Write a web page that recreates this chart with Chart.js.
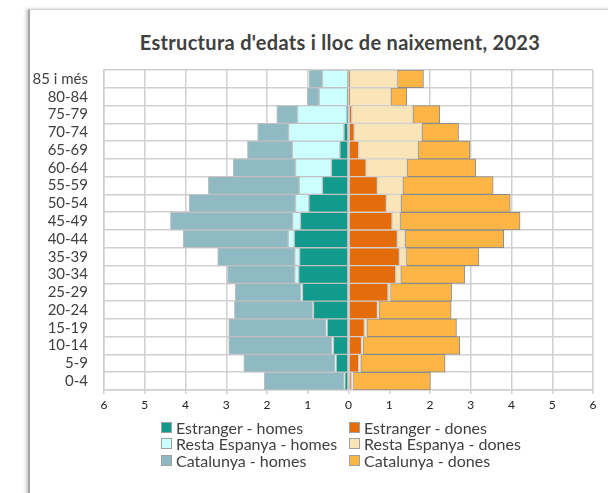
<!DOCTYPE html>
<html>
<head>
<meta charset="utf-8">
<script src="https://cdn.jsdelivr.net/npm/chart.js@4/dist/chart.umd.min.js"></script>
<style>
  body { margin: 0; width: 608px; height: 493px; overflow: hidden; background: #fff; font-family: Lato, "Open Sans", sans-serif; }
  #frame { position: absolute; left: 28px; top: 9px; width: 700px; height: 600px; border-top: 1px solid #d4d4d4; border-left: 2px solid #a6a6a6; box-shadow: -2px 0 3px #c8c8c8; }
  #title { position: absolute; left: 30px; width: 620px; top: 30px; text-align: center; font-weight: bold; font-size: 20px; letter-spacing: 0.3px; color: #404040; }
  #wrap { position: absolute; left: 0; top: 0; width: 608px; height: 493px; }
  #legend { position: absolute; left: 161px; top: 419px; display: grid; grid-template-columns: 188px 220px; row-gap: 0px; font-size: 16px; color: #404040; }
  #legend div { display: flex; align-items: center; height: 16.5px; }
  #legend span.box { width: 11px; height: 11px; margin-right: 4px; box-sizing: border-box; border: 1px solid #a0a0a0; }
</style>
</head>
<body>
<div id="frame"></div>
<div id="title">Estructura d'edats i lloc de naixement, 2023</div>
<div id="wrap"><canvas id="chart" width="608" height="493"></canvas></div>
<div id="legend"></div>
<script>
// age groups, top to bottom
const ages = ['85 i més', '80-84', '75-79', '70-74', '65-69', '60-64', '55-59', '50-54', '45-49',
  '40-44', '35-39', '30-34', '25-29', '20-24', '15-19', '10-14', '5-9', '0-4'];

// percentages of population
const estrangerHomes = [0.01, 0.02, 0.04, 0.11, 0.21, 0.42, 0.64, 0.97, 1.18, 1.33, 1.20, 1.22, 1.13, 0.86, 0.52, 0.37, 0.30, 0.09];
const restaHomes = [0.63, 0.70, 1.21, 1.36, 1.17, 0.88, 0.57, 0.33, 0.19, 0.15, 0.12, 0.10, 0.04, 0.02, 0.03, 0.04, 0.03, 0.02];
const catalunyaHomes = [0.33, 0.29, 0.51, 0.76, 1.10, 1.53, 2.23, 2.61, 3.00, 2.58, 1.89, 1.65, 1.61, 1.92, 2.39, 2.53, 2.24, 1.96];
const estrangerDones = [0.03, 0.03, 0.08, 0.14, 0.25, 0.43, 0.71, 0.93, 1.07, 1.20, 1.25, 1.16, 0.97, 0.71, 0.39, 0.32, 0.25, 0.07];
const restaDones = [1.17, 1.01, 1.50, 1.66, 1.46, 1.01, 0.62, 0.36, 0.20, 0.19, 0.17, 0.12, 0.06, 0.04, 0.06, 0.04, 0.05, 0.05];
const catalunyaDones = [0.64, 0.39, 0.66, 0.90, 1.27, 1.68, 2.22, 2.68, 2.94, 2.42, 1.78, 1.57, 1.50, 1.77, 2.20, 2.37, 2.07, 1.89];

const xTicks = [-6, -5, -4, -3, -2, -1, 0, 1, 2, 3, 4, 5, 6];

function series(label, values, sign, fill, border) {
    return {
        label: label,
        data: values.map(v => v * sign),
        backgroundColor: fill,
        borderColor: border,
        borderWidth: 1,
        borderSkipped: false,
        barPercentage: 1,
        categoryPercentage: 1
    };
}

const datasets = [
    series('Estranger - homes', estrangerHomes, -1, '#129b8d', '#c0c0c0'),
    series('Estranger - dones', estrangerDones, 1, '#e46c0a', '#d0d0d0'),
    series('Resta Espanya - homes', restaHomes, -1, '#ccffff', '#c0c0c0'),
    series('Resta Espanya - dones', restaDones, 1, '#fae5b8', '#d0d0d0'),
    series('Catalunya - homes', catalunyaHomes, -1, '#8fbac4', '#c0c0c0'),
    series('Catalunya - dones', catalunyaDones, 1, '#fdb645', '#8c8c8c')
];

new Chart(document.getElementById('chart'), {
    type: 'bar',
    data: { labels: ages, datasets: datasets },
    options: {
        indexAxis: 'y',
        responsive: false,
        animation: false,
        layout: { padding: { left: 0, right: 15, top: 70, bottom: 78 } },
        plugins: { legend: { display: false }, title: { display: false }, tooltip: { enabled: false } },
        scales: {
            x: {
                stacked: true,
                min: -6,
                max: 6,
                afterBuildTicks: axis => { axis.ticks = xTicks.map(v => ({ value: v })); },
                afterFit: axis => { axis.height = 25; },
                grid: { color: '#d0d0d0', lineWidth: 1.5, tickLength: 4 },
                border: { color: '#d0d0d0', width: 1.5 },
                ticks: { padding: 4, color: '#202020', font: { family: 'Lato', size: 12 }, callback: v => Math.abs(v) }
            },
            y: {
                stacked: true,
                afterFit: axis => { axis.width = 104; },
                grid: { color: '#d0d0d0', lineWidth: 1.5, tickLength: 0 },
                border: { color: '#d0d0d0', width: 1.5 },
                ticks: { autoSkip: false, padding: 16, color: '#404040', font: { family: 'Lato', size: 15 } }
            }
        }
    }
});

// legend in two columns, same order as the datasets
const legend = document.getElementById('legend');
datasets.forEach(ds => {
    const item = document.createElement('div');
    const box = document.createElement('span');
    box.className = 'box';
    box.style.background = ds.backgroundColor;
    item.appendChild(box);
    item.appendChild(document.createTextNode(ds.label));
    legend.appendChild(item);
});
</script>
</body>
</html>
